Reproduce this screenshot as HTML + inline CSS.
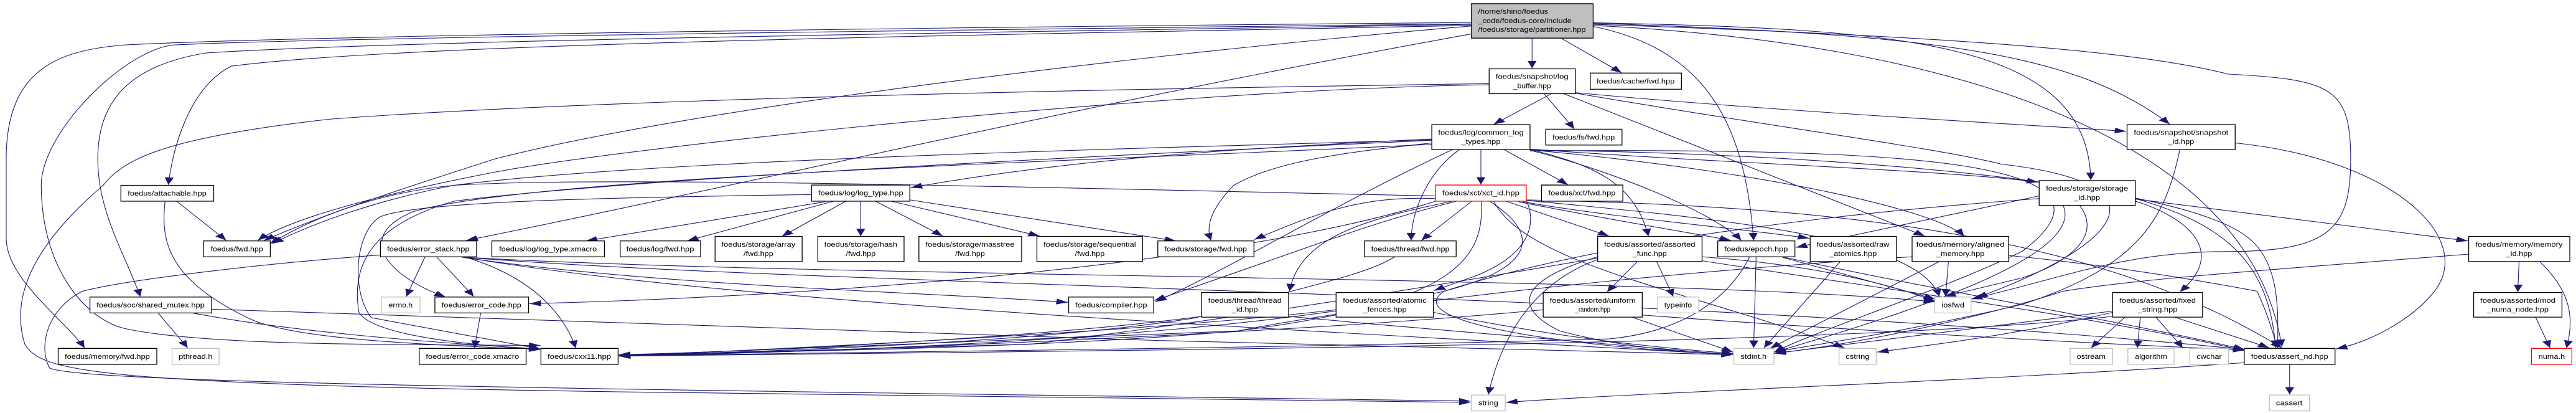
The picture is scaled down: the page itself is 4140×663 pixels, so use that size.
<!DOCTYPE html>
<html><head><meta charset="utf-8"><style>
html,body{margin:0;padding:0;background:#fff;}
svg{display:block;}
text{font-family:"Liberation Sans",sans-serif;font-size:26px;fill:#000;}
.e{fill:none;stroke:#191970;stroke-width:1.1;vector-effect:non-scaling-stroke;marker-end:url(#a);}
.b{fill:#fff;stroke:#000;stroke-width:1.3;vector-effect:non-scaling-stroke;}
.g{fill:#fff;stroke:#bfbfbf;stroke-width:1.3;vector-effect:non-scaling-stroke;}
.r{fill:#fff;stroke:#ff0000;stroke-width:1.3;vector-effect:non-scaling-stroke;}
</style></head><body>
<svg width="4140" height="663" viewBox="0 0 6243 1560" preserveAspectRatio="none" xmlns="http://www.w3.org/2000/svg">
<defs><marker id="a" markerUnits="userSpaceOnUse" markerWidth="28" markerHeight="22" refX="28" refY="11" orient="auto"><path d="M0,0 L28,11 L0,22 z" fill="#191970"/></marker></defs>
<g>
<path class="e" d="M3713,144 L3713,258"/>
<path class="e" d="M3783,144 L3930,275"/>
<path class="e" d="M3861,100 C4150,190 4230,500 4250,908"/>
<path class="e" d="M3861,88 C4700,130 5030,200 5258,469"/>
<path class="e" d="M3861,86 C4600,110 5060,150 5067,680"/>
<path class="e" d="M3861,92 C4800,140 5200,200 5400,280 C5650,300 5697,330 5697,600 C5697,860 5650,950 5400,950 C5150,950 5000,1050 4777,1130"/>
<path class="e" d="M3861,96 C4700,160 5450,500 5530,1310"/>
<path class="e" d="M3566,85 C2500,100 800,130 300,170 C150,190 15,250 15,600 L15,900 C15,1050 150,1200 205,1314"/>
<path class="e" d="M3566,90 C2500,110 800,140 420,170 C300,190 100,500 100,700 C100,1000 200,1200 300,1240 C500,1310 1000,1300 1310,1305"/>
<path class="e" d="M3566,92 C2500,120 1000,150 500,200 C300,250 237,400 237,600 C237,800 300,950 340,1120"/>
<path class="e" d="M3566,96 C2500,130 1000,160 560,250 C460,330 420,550 408,698"/>
<path class="e" d="M3566,98 C2800,200 1700,400 1200,600 C1000,700 800,800 640,908"/>
<path class="e" d="M3566,128 C2600,400 1800,700 1130,908"/>
<path class="e" d="M3609,316 C2500,340 1400,380 800,450 C400,520 300,600 250,700 C100,900 20,1100 60,1300 C100,1400 200,1450 1500,1480 L3564,1520"/>
<path class="e" d="M3609,320 C2800,340 1500,560 1200,650 C900,740 700,830 625,908"/>
<path class="e" d="M3760,354 L3620,470"/>
<path class="e" d="M3742,354 L3815,487"/>
<path class="e" d="M3790,354 L4665,892"/>
<path class="e" d="M3818,350 C4300,420 4900,470 5153,496"/>
<path class="e" d="M3818,352 C4300,480 4700,560 4850,620 C5300,700 5100,950 4790,1125"/>
<path class="e" d="M3589,565 L3589,697"/>
<path class="e" d="M3645,565 L3800,698"/>
<path class="e" d="M3537,565 C3460,650 3420,800 3420,908"/>
<path class="e" d="M3710,565 C3850,620 3960,680 3995,892"/>
<path class="e" d="M3708,568 C3900,640 4150,800 4220,908"/>
<path class="e" d="M3708,563 C4200,620 4700,640 4940,688"/>
<path class="e" d="M3470,525 C3000,560 2600,600 2207,709"/>
<path class="e" d="M3470,540 C3300,570 3100,600 2990,700 C2940,780 2920,850 2935,908"/>
<path class="e" d="M3470,528 C2800,560 1600,600 1100,700 C900,760 750,850 660,920"/>
<path class="e" d="M3470,530 C2500,600 1500,680 1100,760 C900,850 850,1000 870,1180 C900,1260 1100,1300 1310,1320"/>
<path class="e" d="M3520,565 C3200,800 3000,1000 2800,1140"/>
<path class="e" d="M3708,570 C4600,560 5200,600 4900,950 C4700,1100 4400,1250 4300,1330"/>
<path class="e" d="M3708,567 C4500,580 5300,700 5450,900 C5530,1000 5520,1200 5520,1314"/>
<path class="e" d="M3470,545 C2800,600 1300,660 1000,800 C850,900 950,1050 1080,1122"/>
<path class="e" d="M3708,566 C4300,650 4700,800 4760,892"/>
<path class="e" d="M3567,760 L3445,908"/>
<path class="e" d="M3650,760 L3900,892"/>
<path class="e" d="M3680,762 C3900,830 4100,880 4195,908"/>
<path class="e" d="M3690,762 C3900,820 4200,860 4385,900"/>
<path class="e" d="M3700,760 C3720,830 3720,950 3580,1040 L3475,1098"/>
<path class="e" d="M3520,760 C3300,830 3150,900 3125,1100"/>
<path class="e" d="M3479,750 C3300,740 3200,800 3040,905"/>
<path class="e" d="M3479,740 C2800,720 1500,660 1100,700 C900,730 750,830 655,920"/>
<path class="e" d="M3479,760 C3000,1000 2000,1120 1283,1147"/>
<path class="e" d="M3530,760 C3300,850 3150,950 2798,1135"/>
<path class="e" d="M3590,760 C3600,1000 3500,1150 3000,1250 C2500,1320 1800,1330 1500,1340"/>
<path class="e" d="M3610,760 C3750,900 3700,1020 3500,1100 C3400,1200 3700,1300 4200,1340"/>
<path class="e" d="M3699,755 C4500,780 5100,900 5530,1314"/>
<path class="e" d="M3699,757 C4200,830 4650,900 4700,1120"/>
<path class="e" d="M3620,760 C3700,1000 4100,1100 4470,1314"/>
<path class="e" d="M2020,760 L1665,910"/>
<path class="e" d="M2050,760 L1895,893"/>
<path class="e" d="M2086,760 L2086,892"/>
<path class="e" d="M2122,760 L2285,892"/>
<path class="e" d="M2160,760 L2520,892"/>
<path class="e" d="M2205,755 L2850,910"/>
<path class="e" d="M2000,762 L1420,910"/>
<path class="e" d="M1967,735 C1500,745 1000,760 920,820 C860,880 850,1100 900,1200 L1310,1318"/>
<path class="e" d="M1030,970 L985,1120"/>
<path class="e" d="M1058,970 L1148,1120"/>
<path class="e" d="M1125,970 C1300,1050 1370,1200 1395,1314"/>
<path class="e" d="M922,963 C600,1000 300,1060 200,1100 C120,1160 90,1300 120,1390 C200,1450 1500,1470 3564,1515"/>
<path class="e" d="M1120,972 C1600,1080 2200,1100 2588,1142"/>
<path class="e" d="M1125,972 C1800,1150 3200,1250 4200,1340"/>
<path class="e" d="M1125,972 C2000,1080 4000,1100 5440,1320"/>
<path class="e" d="M1130,972 C2000,1050 4000,1040 4690,1140"/>
<path class="e" d="M1165,1182 L1150,1314"/>
<path class="e" d="M383,1182 L455,1314"/>
<path class="e" d="M465,1182 C700,1250 1000,1290 1310,1318"/>
<path class="e" d="M513,1168 C1500,1230 3000,1300 4200,1340"/>
<path class="e" d="M428,760 L548,908"/>
<path class="e" d="M400,760 C390,900 400,1050 600,1200 C700,1280 1000,1300 1310,1320"/>
<path class="e" d="M3380,970 C3300,1050 3100,1100 2900,1200 C2500,1300 1800,1330 1500,1343"/>
<path class="e" d="M2912,1195 C2600,1260 2000,1320 1500,1340"/>
<path class="e" d="M3123,1195 C3500,1250 3900,1300 4200,1340"/>
<path class="e" d="M3968,988 L3895,1103"/>
<path class="e" d="M4015,988 L4055,1120"/>
<path class="e" d="M3872,970 C3700,1050 3650,1150 3780,1250 C3900,1300 4050,1330 4200,1340"/>
<path class="e" d="M3872,980 C3750,1050 3650,1200 3607,1490"/>
<path class="e" d="M3872,975 C3400,1100 3000,1200 2500,1300 L1500,1343"/>
<path class="e" d="M4125,985 C4600,1100 5100,1200 5440,1325"/>
<path class="e" d="M4125,970 C4400,1000 4600,1080 4690,1140"/>
<path class="e" d="M3955,1198 L4200,1330"/>
<path class="e" d="M3740,1170 C3200,1250 2200,1320 1500,1345"/>
<path class="e" d="M3980,1190 C4500,1250 5100,1300 5440,1322"/>
<path class="e" d="M4256,970 L4250,1314"/>
<path class="e" d="M4320,970 C4700,1100 5100,1200 5440,1320"/>
<path class="e" d="M4320,972 L4690,1130"/>
<path class="e" d="M4240,970 C4200,1100 4100,1250 3900,1280 C3000,1320 2000,1330 1500,1345"/>
<path class="e" d="M4460,988 L4275,1314"/>
<path class="e" d="M4722,988 L4715,1120"/>
<path class="e" d="M4700,988 L4290,1316"/>
<path class="e" d="M4868,965 C5100,1000 5300,1050 5470,1100 C5500,1200 5510,1270 5520,1314"/>
<path class="e" d="M4634,970 C4300,1000 3500,1100 3000,1250 L1500,1343"/>
<path class="e" d="M3474,1180 C3700,1250 3900,1300 4200,1335"/>
<path class="e" d="M3238,1170 C2800,1250 2000,1310 1500,1345"/>
<path class="e" d="M5040,776 C5100,900 5000,1000 4900,1050 L4712,1120"/>
<path class="e" d="M5000,776 C5050,950 4700,1150 4300,1330"/>
<path class="e" d="M5175,750 C5400,850 5500,1000 5515,1314"/>
<path class="e" d="M5175,752 L5981,910"/>
<path class="e" d="M5175,760 C5300,820 5400,950 5283,1103"/>
<path class="e" d="M4942,740 L4352,935"/>
<path class="e" d="M4942,750 C4500,800 3900,900 3500,1100 C3000,1280 2000,1330 1500,1344"/>
<path class="e" d="M5283,565 C5250,800 5200,1000 4900,1150 C4600,1260 4400,1300 4300,1330"/>
<path class="e" d="M5417,540 C5800,600 6000,900 5900,1100 C5850,1200 5750,1290 5661,1318"/>
<path class="e" d="M6105,988 L6102,1103"/>
<path class="e" d="M6155,988 C6230,1100 6240,1200 6220,1314"/>
<path class="e" d="M5983,960 C5500,1020 5200,1050 5000,1100 C4800,1200 4500,1300 4300,1335"/>
<path class="e" d="M6145,1198 L6180,1314"/>
<path class="e" d="M5150,1198 L5068,1314"/>
<path class="e" d="M5187,1198 L5180,1314"/>
<path class="e" d="M5225,1198 L5290,1314"/>
<path class="e" d="M5270,1198 L5500,1314"/>
<path class="e" d="M5120,1175 L4300,1335"/>
<path class="e" d="M5120,1195 C4500,1300 3000,1320 1500,1345"/>
<path class="e" d="M5120,1180 C4900,1260 4700,1300 4549,1330"/>
<path class="e" d="M5549,1376 L5549,1490"/>
<path class="e" d="M5439,1370 C4800,1440 4000,1480 3650,1520"/>
</g>
<g>
<rect x="3566" y="14" width="295" height="130" fill="#bfbfbf" stroke="#000" stroke-width="1.3" vector-effect="non-scaling-stroke"/>
<text x="3582" y="52" textLength="170" lengthAdjust="spacingAndGlyphs">/home/shino/foedus</text>
<text x="3582" y="87" textLength="227" lengthAdjust="spacingAndGlyphs">_code/foedus-core/include</text>
<text x="3582" y="120" textLength="261" lengthAdjust="spacingAndGlyphs">/foedus/storage/partitioner.hpp</text>
</g>
<g text-anchor="middle">
<rect class="b" x="3609" y="260" width="209" height="94"/><text x="3713" y="298" textLength="176" lengthAdjust="spacingAndGlyphs">foedus/snapshot/log</text><text x="3713" y="333" textLength="92" lengthAdjust="spacingAndGlyphs">_buffer.hpp</text>
<rect class="b" x="3854" y="276" width="221" height="61"/><text x="3964" y="315" textLength="189" lengthAdjust="spacingAndGlyphs">foedus/cache/fwd.hpp</text>
<rect class="b" x="3470" y="471" width="238" height="94"/><text x="3589" y="509" textLength="207" lengthAdjust="spacingAndGlyphs">foedus/log/common_log</text><text x="3589" y="544" textLength="95" lengthAdjust="spacingAndGlyphs">_types.hpp</text>
<rect class="b" x="3746" y="488" width="185" height="60"/><text x="3838" y="527" textLength="151" lengthAdjust="spacingAndGlyphs">foedus/fs/fwd.hpp</text>
<rect class="r" x="3479" y="699" width="220" height="61"/><text x="3589" y="738" textLength="187" lengthAdjust="spacingAndGlyphs">foedus/xct/xct_id.hpp</text>
<rect class="b" x="3736" y="699" width="197" height="61"/><text x="3834" y="738" textLength="163" lengthAdjust="spacingAndGlyphs">foedus/xct/fwd.hpp</text>
<rect class="b" x="3307" y="910" width="222" height="60"/><text x="3418" y="949" textLength="190" lengthAdjust="spacingAndGlyphs">foedus/thread/fwd.hpp</text>
<rect class="b" x="3872" y="893" width="253" height="95"/><text x="3998" y="932" textLength="221" lengthAdjust="spacingAndGlyphs">foedus/assorted/assorted</text><text x="3998" y="967" textLength="83" lengthAdjust="spacingAndGlyphs">_func.hpp</text>
<rect class="b" x="4163" y="910" width="187" height="60"/><text x="4256" y="949" textLength="154" lengthAdjust="spacingAndGlyphs">foedus/epoch.hpp</text>
<rect class="b" x="4387" y="893" width="209" height="95"/><text x="4491" y="932" textLength="176" lengthAdjust="spacingAndGlyphs">foedus/assorted/raw</text><text x="4491" y="967" textLength="115" lengthAdjust="spacingAndGlyphs">_atomics.hpp</text>
<rect class="b" x="4634" y="893" width="234" height="95"/><text x="4751" y="932" textLength="214" lengthAdjust="spacingAndGlyphs">foedus/memory/aligned</text><text x="4751" y="967" textLength="117" lengthAdjust="spacingAndGlyphs">_memory.hpp</text>
<rect class="b" x="3238" y="1105" width="236" height="93"/><text x="3356" y="1143" textLength="203" lengthAdjust="spacingAndGlyphs">foedus/assorted/atomic</text><text x="3356" y="1178" textLength="106" lengthAdjust="spacingAndGlyphs">_fences.hpp</text>
<rect class="b" x="3740" y="1105" width="240" height="93"/><text x="3860" y="1143" textLength="208" lengthAdjust="spacingAndGlyphs">foedus/assorted/uniform</text><text x="3860" y="1178" textLength="85" lengthAdjust="spacingAndGlyphs">_random.hpp</text>
<rect class="g" x="4017" y="1122" width="100" height="60"/><text x="4067" y="1161" textLength="67" lengthAdjust="spacingAndGlyphs">typeinfo</text>
<rect class="g" x="4202" y="1316" width="97" height="60"/><text x="4250" y="1355" textLength="63" lengthAdjust="spacingAndGlyphs">stdint.h</text>
<rect class="g" x="4457" y="1316" width="90" height="60"/><text x="4502" y="1355" textLength="58" lengthAdjust="spacingAndGlyphs">cstring</text>
<rect class="g" x="3566" y="1492" width="82" height="60"/><text x="3607" y="1531" textLength="48" lengthAdjust="spacingAndGlyphs">string</text>
<rect class="b" x="5155" y="471" width="262" height="94"/><text x="5286" y="509" textLength="229" lengthAdjust="spacingAndGlyphs">foedus/snapshot/snapshot</text><text x="5286" y="544" textLength="63" lengthAdjust="spacingAndGlyphs">_id.hpp</text>
<rect class="b" x="4942" y="682" width="233" height="94"/><text x="5058" y="720" textLength="199" lengthAdjust="spacingAndGlyphs">foedus/storage/storage</text><text x="5058" y="755" textLength="63" lengthAdjust="spacingAndGlyphs">_id.hpp</text>
<rect class="b" x="5983" y="893" width="245" height="95"/><text x="6105" y="932" textLength="211" lengthAdjust="spacingAndGlyphs">foedus/memory/memory</text><text x="6105" y="967" textLength="63" lengthAdjust="spacingAndGlyphs">_id.hpp</text>
<rect class="g" x="4689" y="1122" width="88" height="60"/><text x="4733" y="1161" textLength="55" lengthAdjust="spacingAndGlyphs">iosfwd</text>
<rect class="b" x="5120" y="1105" width="218" height="93"/><text x="5229" y="1143" textLength="185" lengthAdjust="spacingAndGlyphs">foedus/assorted/fixed</text><text x="5229" y="1178" textLength="96" lengthAdjust="spacingAndGlyphs">_string.hpp</text>
<rect class="b" x="5995" y="1105" width="214" height="93"/><text x="6102" y="1143" textLength="182" lengthAdjust="spacingAndGlyphs">foedus/assorted/mod</text><text x="6102" y="1178" textLength="149" lengthAdjust="spacingAndGlyphs">_numa_node.hpp</text>
<rect class="g" x="5017" y="1316" width="103" height="60"/><text x="5068" y="1355" textLength="70" lengthAdjust="spacingAndGlyphs">ostream</text>
<rect class="g" x="5157" y="1316" width="112" height="60"/><text x="5213" y="1355" textLength="78" lengthAdjust="spacingAndGlyphs">algorithm</text>
<rect class="g" x="5307" y="1316" width="94" height="60"/><text x="5354" y="1355" textLength="61" lengthAdjust="spacingAndGlyphs">cwchar</text>
<rect class="b" x="5439" y="1316" width="220" height="60"/><text x="5549" y="1355" textLength="187" lengthAdjust="spacingAndGlyphs">foedus/assert_nd.hpp</text>
<rect class="r" x="6135" y="1316" width="98" height="60"/><text x="6184" y="1355" textLength="64" lengthAdjust="spacingAndGlyphs">numa.h</text>
<rect class="g" x="5500" y="1492" width="97" height="60"/><text x="5548" y="1531" textLength="64" lengthAdjust="spacingAndGlyphs">cassert</text>
<rect class="b" x="1967" y="699" width="238" height="61"/><text x="2086" y="738" textLength="206" lengthAdjust="spacingAndGlyphs">foedus/log/log_type.hpp</text>
<rect class="b" x="1733" y="893" width="211" height="95"/><text x="1838" y="932" textLength="179" lengthAdjust="spacingAndGlyphs">foedus/storage/array</text><text x="1838" y="967" textLength="72" lengthAdjust="spacingAndGlyphs">/fwd.hpp</text>
<rect class="b" x="1982" y="893" width="209" height="95"/><text x="2086" y="932" textLength="177" lengthAdjust="spacingAndGlyphs">foedus/storage/hash</text><text x="2086" y="967" textLength="72" lengthAdjust="spacingAndGlyphs">/fwd.hpp</text>
<rect class="b" x="2227" y="893" width="249" height="95"/><text x="2351" y="932" textLength="216" lengthAdjust="spacingAndGlyphs">foedus/storage/masstree</text><text x="2351" y="967" textLength="72" lengthAdjust="spacingAndGlyphs">/fwd.hpp</text>
<rect class="b" x="2513" y="893" width="256" height="95"/><text x="2641" y="932" textLength="224" lengthAdjust="spacingAndGlyphs">foedus/storage/sequential</text><text x="2641" y="967" textLength="72" lengthAdjust="spacingAndGlyphs">/fwd.hpp</text>
<rect class="b" x="2806" y="910" width="233" height="60"/><text x="2922" y="949" textLength="200" lengthAdjust="spacingAndGlyphs">foedus/storage/fwd.hpp</text>
<rect class="b" x="2590" y="1122" width="206" height="60"/><text x="2693" y="1161" textLength="174" lengthAdjust="spacingAndGlyphs">foedus/compiler.hpp</text>
<rect class="b" x="2912" y="1105" width="211" height="93"/><text x="3017" y="1143" textLength="178" lengthAdjust="spacingAndGlyphs">foedus/thread/thread</text><text x="3017" y="1178" textLength="63" lengthAdjust="spacingAndGlyphs">_id.hpp</text>
<rect class="b" x="293" y="700" width="225" height="60"/><text x="405" y="739" textLength="191" lengthAdjust="spacingAndGlyphs">foedus/attachable.hpp</text>
<rect class="b" x="493" y="910" width="162" height="60"/><text x="574" y="949" textLength="127" lengthAdjust="spacingAndGlyphs">foedus/fwd.hpp</text>
<rect class="b" x="922" y="910" width="233" height="60"/><text x="1038" y="949" textLength="200" lengthAdjust="spacingAndGlyphs">foedus/error_stack.hpp</text>
<rect class="b" x="1192" y="910" width="273" height="60"/><text x="1328" y="949" textLength="237" lengthAdjust="spacingAndGlyphs">foedus/log/log_type.xmacro</text>
<rect class="b" x="1503" y="910" width="195" height="60"/><text x="1600" y="949" textLength="164" lengthAdjust="spacingAndGlyphs">foedus/log/fwd.hpp</text>
<rect class="b" x="218" y="1122" width="295" height="60"/><text x="365" y="1161" textLength="262" lengthAdjust="spacingAndGlyphs">foedus/soc/shared_mutex.hpp</text>
<rect class="g" x="924" y="1122" width="94" height="60"/><text x="971" y="1161" textLength="58" lengthAdjust="spacingAndGlyphs">errno.h</text>
<rect class="b" x="1054" y="1122" width="227" height="60"/><text x="1167" y="1161" textLength="193" lengthAdjust="spacingAndGlyphs">foedus/error_code.hpp</text>
<rect class="b" x="141" y="1316" width="239" height="60"/><text x="260" y="1355" textLength="206" lengthAdjust="spacingAndGlyphs">foedus/memory/fwd.hpp</text>
<rect class="g" x="417" y="1316" width="114" height="60"/><text x="474" y="1355" textLength="82" lengthAdjust="spacingAndGlyphs">pthread.h</text>
<rect class="b" x="1016" y="1316" width="259" height="60"/><text x="1145" y="1355" textLength="226" lengthAdjust="spacingAndGlyphs">foedus/error_code.xmacro</text>
<rect class="b" x="1311" y="1316" width="187" height="60"/><text x="1404" y="1355" textLength="154" lengthAdjust="spacingAndGlyphs">foedus/cxx11.hpp</text>
</g>
</svg>
</body></html>
